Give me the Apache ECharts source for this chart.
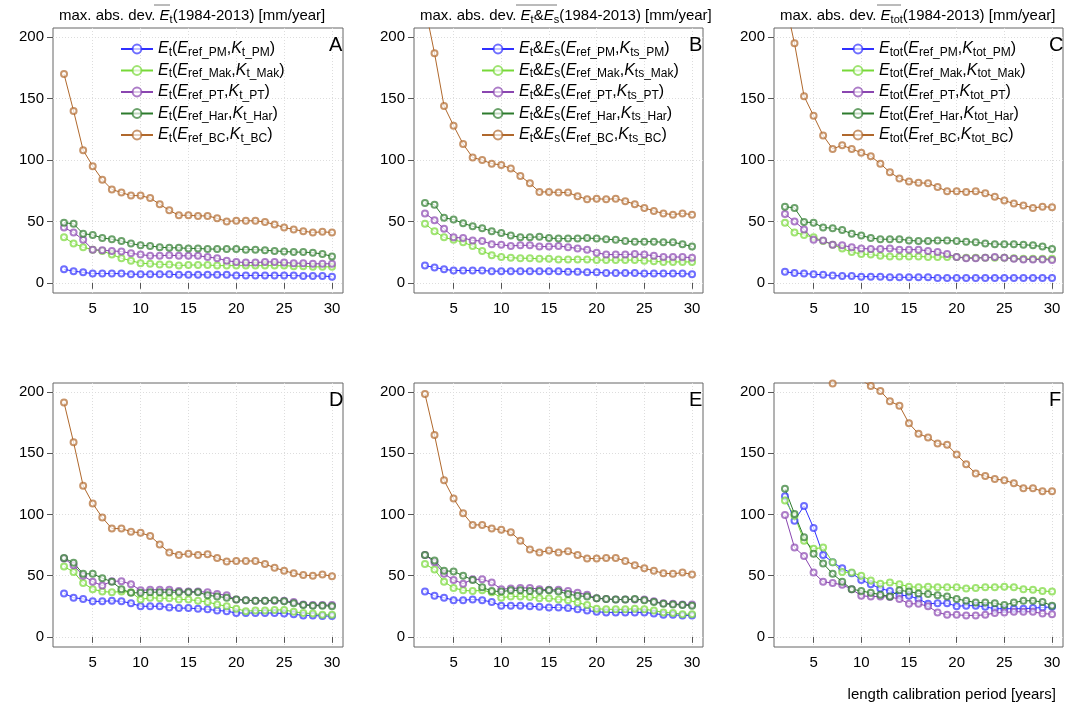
<!DOCTYPE html>
<html>
<head>
<meta charset="utf-8">
<script src="https://cdn.jsdelivr.net/npm/echarts@6.0.0/dist/echarts.min.js"></script>
<style>
  html, body { margin: 0; padding: 0; background: #fff; }
  #chart { width: 1067px; height: 703px; }
</style>
</head>
<body>
<div id="chart"></div>
<script>
// calibration period lengths (years)
const periods = [2,3,4,5,6,7,8,9,10,11,12,13,14,15,16,17,18,19,20,21,22,23,24,25,26,27,28,29,30];
const xTicks = [5, 10, 15, 20, 25, 30];
const yTicks = [0, 50, 100, 150, 200];
const panelLetters = ['A', 'B', 'C', 'D', 'E', 'F'];
const methods = ['PM', 'Mak', 'PT', 'Har', 'BC'];
const colors = ['#3030ff', '#77d838', '#8a46b0', '#2c7a2c', '#b0682c'];

// A: Et
const A_PM  = [11,9.5,8.5,7.5,7.5,7.5,7.5,7,7,7,7,7,6.5,6.5,6.5,6.5,6.5,6.5,6,6,6,6,6,6,6,5.5,5.5,5.5,5];
const A_Mak = [37,32,29,27,26,23,20,18,16,15.5,15,15,14,14.5,14.5,14.5,14,14,14,14,14,14,14,14,13.5,13.5,13,13,13];
const A_PT  = [45,41,35,27,26.5,26,25.5,24,23,22,22,22.5,22,22,22,21,20,18,17,16.5,16.5,17,17,16.5,16,16,15.5,15.5,15.5];
const A_Har = [49,48,40,39,36.5,35.5,34,32,30.5,30,29,28.5,28.5,28,28,27.5,27.5,27.5,27.5,27,27,26.5,26,25.5,25,25,24.5,23.5,21.5];
const A_BC  = [170,140,108,95,84,76,73.5,71,71,69,64,59,55,55,54.5,54.5,52.5,50,50.5,50.5,50.5,49.5,47.5,45,43.5,42,41,41.5,41];

// B: Et & Es
const B_PM  = [14,12.5,11,10,10,10,10,9.5,9.5,9.5,9.5,9.5,9.5,9.5,9.5,9,9,8.5,8.5,8,8,8,8,7.5,7.5,7.5,7.5,7.5,7];
const B_Mak = [48,42,37,35,33,30,26,22.5,21,20.5,20,20,19.5,19.5,19,19,19,19,18.5,18.5,18.5,18.5,18.5,18,17.5,17,17,17,17];
const B_PT  = [56.5,51,44,37,36.5,34.5,34,31.5,31,30,30.5,30.5,29.5,29.5,30,29,28,27,24.5,23,23,23,23.5,23,22,21,21,21,20.5];
const B_Har = [65,63.5,53,51.5,48.5,46,44.5,42,40.5,38.5,37,37,37.5,36.5,36,36,36,36.5,36,35.5,35,34,33.5,33.5,33.5,33,33,31.5,29.5];
const B_BC  = [225,187,144,128,113,102,100,97,96,93,87,81,74,74,73.5,73.5,70.5,68,68.5,68,68.5,66.5,64,61,58.5,56.5,55.5,56.5,55.5];

// C: Etot
const C_PM  = [9,8,7.5,7,6.5,6,5.5,5.5,5,5,5,4.5,4.5,4.5,4.5,4.5,4,4,4,4,4,4,4,4,4,4,4,4,4];
const C_Mak = [49,41,39,37,34,31,28,25,23.5,23,22,21.5,21.5,21.5,21.5,21,21,21,21,20.5,20.5,20.5,20.5,20.5,20,19.5,19.5,19.5,19.5];
const C_PT  = [56,50,43.5,35,34.5,31,30.5,29,28,27.5,27.5,28,27,27,27,26,25,23.5,21,20,20,20.5,21,20.5,19.5,19,19,19,18.5];
const C_Har = [62,61,49.5,49,45,44.5,43,40,38.5,36.5,35.5,35.5,35.5,34.5,34,34,34.5,34.5,34,33.5,33,32,31.5,31.5,31.5,31,30.5,29.5,27.5];
const C_BC  = [230,195,152,136,120,109,112,109,106,103,97,90,85,82.5,81.5,81,78,74.5,74.5,74,74.5,73,70,67,64.5,63,61,62,61.5];

// D
const D_PM  = [35.5,32,31,29,29,29.5,29,27.5,25,25,25,24,23.5,23.5,23,22.5,21.5,21,19.5,19.5,19.5,19.5,19.5,19,18.5,17.5,17.5,17,17];
const D_Mak = [57.5,53,44,39,37,36.5,37,36.5,30.5,32,31.5,31.5,30.5,30.5,29.5,28.5,26.5,25,23,21,21.5,21.5,22,22,20.5,19.5,19,18,18];
const D_PT  = [64,58.5,50,45,42,45.5,45.5,43,38,38.5,38.5,38.5,37.5,37,37,36.5,35,34,30.5,30,29.5,29.5,29.5,29.5,28.5,26.5,26,26,26];
const D_Har = [64.5,60.5,51.5,51.5,48,45,39,36,36,36.5,36.5,36.5,36.5,36.5,36.5,34,33,32,30.5,30,29.5,29.5,30,29,27.5,26,25.5,25.5,25];
const D_BC  = [191.5,159,123.5,109,97.5,88.5,88.5,86,85,82.5,75.5,69,67,68,67,67.5,64.5,61.5,62,62,62,59.5,56.5,54,52,50.5,50,51,49.5];

// E
const E_PM  = [37,33.5,32,30,30,30.5,30,28.5,25.5,25.5,25.5,25,24.5,24,24,23.5,22.5,21.5,20.5,20,20,20,20,20,19,18,18,17.5,17.5];
const E_Mak = [59.5,55,45,40,38,37.5,38,36.5,32,33,33,32.5,31.5,31.5,30.5,30,28,26,23,22.5,22.5,22.5,23,22.5,21.5,20,19.5,18.5,18.5];
const E_PT  = [67,61,51.5,46.5,43.5,47,47,44.5,39,39.5,40,40,39,38.5,38.5,37.5,36,34.5,31.5,31,30.5,30.5,30.5,30.5,29,27.5,27,26.5,26.5];
const E_Har = [67,62.5,54,53.5,50,46.5,40.5,37.5,37,38,38,37.5,37.5,38,37,35,33.5,33,31.5,31,30.5,30.5,31,30,28.5,27,26.5,26,25.5];
const E_BC  = [198.5,165,128,113,101,91.5,91.5,88.5,87.5,85.5,78.5,71.5,69,70.5,69,70,67,64,64,64.5,64.5,62,58.5,56,54,52,51.5,52.5,51];

// F
const F_PM  = [115,95,107,89,67,61,56,52,46.5,43,39.5,37.5,34,33.5,31,27,27.5,27.5,25,25.5,25.5,24.5,23,23,23,23,23.5,24,24.5];
const F_Mak = [111.5,99,78.5,72,73,61,53,52.5,50,46,43.5,44.5,43,41,40.5,41,40.5,40.5,40.5,39.5,40,40.5,40.5,41,40.5,39,38.5,37.5,37];
const F_PT  = [99.5,73,66,52.5,45,44,42.5,39,33.5,33,33,32.5,31,27,27,25,20,18,18,17.5,17.5,18,19.5,20,20.5,20.5,20.5,19,18.5];
const F_Har = [121,100.5,81.5,68,60,51.5,45,39,37.5,36,34.5,33,38,37,35.5,35,34,33,31,29.5,28,28,27.5,26,28,29.5,29.5,28.5,25.5];
const F_BC  = [330,290,260,235,218,207,212,211,210,205,201,192.5,189,174.5,166,163,158,157,149,141,133.5,131.5,129,128,125.5,121.5,121.5,119,119];

const panels = [
  [A_PM, A_Mak, A_PT, A_Har, A_BC],
  [B_PM, B_Mak, B_PT, B_Har, B_BC],
  [C_PM, C_Mak, C_PT, C_Har, C_BC],
  [D_PM, D_Mak, D_PT, D_Har, D_BC],
  [E_PM, E_Mak, E_PT, E_Har, E_BC],
  [F_PM, F_Mak, F_PT, F_Har, F_BC]
];

// ━━━ layout ━━━
const FONT = 'Liberation Sans';
const lefts = [53, 414, 774];
const widths = [290, 289, 289];
const tops = [28, 383];
const heights = [265, 264];

function makeRich(size) {
  return {
    n: { fontFamily: FONT, fontSize: size, fontWeight: 'normal', color: '#000' },
    i: { fontFamily: FONT, fontSize: size, fontWeight: 'normal', fontStyle: 'italic', color: '#000' },
    s: { fontFamily: FONT, fontSize: Math.round(size * 0.72), fontWeight: 'normal', color: '#000', padding: [Math.round(size * 0.45), 0, 0, 0] }
  };
}

// legend label builders for the top row panels
const legendPrefix = [
  m => `{i|E}{s|t}{n|(}{i|E}{s|ref_${m}}{n|,}{i|K}{s|t_${m}}{n|)}`,
  m => `{i|E}{s|t}{n|&}{i|E}{s|s}{n|(}{i|E}{s|ref_${m}}{n|,}{i|K}{s|ts_${m}}{n|)}`,
  m => `{i|E}{s|tot}{n|(}{i|E}{s|ref_${m}}{n|,}{i|K}{s|tot_${m}}{n|)}`
];
const titleText = [
  '{n|max. abs. dev. }{i|E}{s|t}{n|(1984-2013) [mm/year]}',
  '{n|max. abs. dev. }{i|E}{s|t}{n|&}{i|E}{s|s}{n|(1984-2013) [mm/year]}',
  '{n|max. abs. dev. }{i|E}{s|tot}{n|(1984-2013) [mm/year]}'
];
// overline extents above the averaged quantity in each title
const overlines = [[154, 170], [516, 557], [877, 901]];

const grids = [], xAxes = [], yAxes = [], series = [], titles = [], legends = [];

panels.forEach((rows, p) => {
  const col = p % 3, row = Math.floor(p / 3);
  grids.push({
    left: lefts[col], width: widths[col], top: tops[row], height: heights[row],
    show: true, borderColor: '#666', borderWidth: 1, backgroundColor: 'transparent'
  });
  xAxes.push({
    type: 'value', gridIndex: p, min: 0.85, max: 31.15,
    axisLine: { show: false },
    axisTick: { show: true, length: 6, inside: false, customValues: xTicks, lineStyle: { color: '#555' } },
    axisLabel: { show: true, customValues: xTicks, margin: 8, fontFamily: FONT, fontSize: 15, color: '#000' },
    splitLine: { show: true, lineStyle: { color: '#ddd', type: [1, 2] } }
  });
  yAxes.push({
    type: 'value', gridIndex: p, min: -8.3, max: 207.5,
    axisLine: { show: false },
    axisTick: { show: true, length: 6, inside: false, customValues: yTicks, lineStyle: { color: '#555' } },
    axisLabel: { show: true, customValues: yTicks, margin: 9, fontFamily: FONT, fontSize: 15, color: '#000' },
    splitLine: { show: true, lineStyle: { color: '#ddd', type: [1, 2] } }
  });
  rows.forEach((vals, k) => {
    series.push({
      name: `${p}_${methods[k]}`,
      type: 'line', xAxisIndex: p, yAxisIndex: p,
      data: periods.map((x, j) => [x, vals[j]]),
      symbol: 'emptyCircle', symbolSize: 6, clip: true,
      lineStyle: { color: colors[k], width: 1 },
      itemStyle: { color: colors[k], borderColor: colors[k], borderWidth: 1, opacity: 0.7 },
      emphasis: { disabled: true }
    });
  });
  titles.push({
    text: panelLetters[p], left: lefts[col] + widths[col] - 19, top: tops[row] + 2,
    textStyle: { fontFamily: FONT, fontSize: 20, fontWeight: 'normal', color: '#000' }
  });
  if (row === 0) {
    titles.push({
      text: titleText[col], left: lefts[col] + 1, top: 2,
      textStyle: { rich: makeRich(15) }
    });
    legends.push({
      orient: 'vertical', left: lefts[col] + 62, top: tops[0] + 8,
      itemWidth: 32, itemHeight: 11, itemGap: 4,
      data: methods.map(m => `${p}_${m}`),
      formatter: name => legendPrefix[col](name.split('_')[1]),
      textStyle: { rich: makeRich(16), lineHeight: 14 },
      selectedMode: false
    });
  }
});

titles.push({
  text: 'length calibration period [years]', right: 6, top: 682,
  textStyle: { fontFamily: FONT, fontSize: 15, fontWeight: 'normal', color: '#000' }
});

const graphics = overlines.map(([x1, x2]) => ({
  type: 'line', shape: { x1: x1, y1: 5, x2: x2, y2: 5 },
  style: { stroke: '#777', lineWidth: 1 }
}));

const chart = echarts.init(document.getElementById('chart'), null, { renderer: 'canvas' });
chart.setOption({
  animation: false,
  backgroundColor: '#fff',
  title: titles,
  legend: legends,
  grid: grids,
  xAxis: xAxes,
  yAxis: yAxes,
  series: series,
  graphic: graphics
});
</script>
</body>
</html>
